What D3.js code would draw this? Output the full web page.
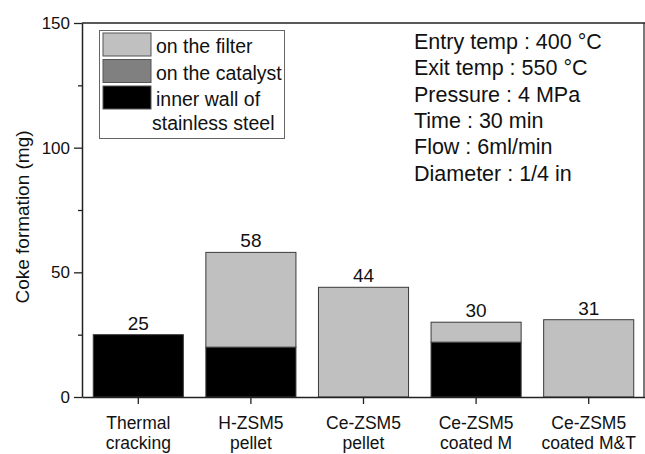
<!DOCTYPE html>
<html>
<head>
<meta charset="utf-8">
<script src="https://cdn.jsdelivr.net/npm/d3@7"></script>
<style>
  html, body { margin: 0; padding: 0; background: #fff; }
  svg { display: block; font-family: "Liberation Sans", Arial, sans-serif; }
</style>
</head>
<body>
<svg id="chart" width="645" height="454"></svg>
<script>
// Coke deposited per run, in mg, split by where it was found
const categories = ["Thermal cracking", "H-ZSM5 pellet", "Ce-ZSM5 pellet", "Ce-ZSM5 coated M", "Ce-ZSM5 coated M&T"];
const categoryLines = [["Thermal", "cracking"], ["H-ZSM5", "pellet"], ["Ce-ZSM5", "pellet"], ["Ce-ZSM5", "coated M"], ["Ce-ZSM5", "coated M&T"]];
const wallCoke = [25, 20, 0, 22, 0];      // inner wall of stainless steel
const catalystCoke = [0, 0, 0, 0, 0];     // on the catalyst
const filterCoke = [0, 38, 44, 8, 31];    // on the filter
const seriesKeys = ["wall", "catalyst", "filter"];
const seriesNames = ["inner wall of\nstainless steel", "on the catalyst", "on the filter"];
const seriesColors = ["#000000", "#808080", "#c0c0c0"];
const yTicks = [0, 50, 100, 150];
const yMinorTicks = [25, 75, 125];
const conditions = ["Entry temp : 400 °C", "Exit temp : 550 °C", "Pressure : 4 MPa", "Time : 30 min", "Flow : 6ml/min", "Diameter : 1/4 in"];

const rows = categories.map((c, i) => ({
  category: c,
  wall: wallCoke[i],
  catalyst: catalystCoke[i],
  filter: filterCoke[i]
}));
const totals = rows.map(r => r.wall + r.catalyst + r.filter);

const svg = d3.select("#chart");
const plotLeft = 82, plotRight = 645, plotTop = 23, plotBottom = 397;

const x = d3.scaleBand().domain(categories).range([plotLeft, plotRight]).paddingInner(0.2).paddingOuter(0.1);
const y = d3.scaleLinear().domain([0, 150]).range([plotBottom, plotTop]);

const stacked = d3.stack().keys(seriesKeys)(rows);

// stacked bars
const layers = svg.append("g").selectAll("g")
  .data(stacked)
  .join("g")
  .attr("fill", (d, i) => seriesColors[i]);

layers.selectAll("rect")
  .data(d => d.filter(s => s[1] - s[0] > 0))
  .join("rect")
  .attr("x", d => x(d.data.category))
  .attr("width", x.bandwidth())
  .attr("y", d => y(d[1]))
  .attr("height", d => y(d[0]) - y(d[1]))
  .attr("stroke", "#3a3a3a")
  .attr("stroke-width", 1);

// total labels above each bar
svg.append("g").selectAll("text")
  .data(totals)
  .join("text")
  .attr("x", (d, i) => x(categories[i]) + x.bandwidth() / 2)
  .attr("y", d => y(d) - 5)
  .attr("text-anchor", "middle")
  .attr("font-size", 19)
  .attr("fill", "#111")
  .text(d => d);

// frame: top and right edges
svg.append("line").attr("x1", plotLeft).attr("x2", plotRight).attr("y1", y(150)).attr("y2", y(150))
  .attr("stroke", "#222").attr("stroke-width", 1.5);
svg.append("line").attr("x1", plotRight - 1).attr("x2", plotRight - 1).attr("y1", y(150)).attr("y2", y(0))
  .attr("stroke", "#222").attr("stroke-width", 1.2);

// y axis
const yAxis = svg.append("g")
  .attr("transform", `translate(${plotLeft},0)`)
  .call(d3.axisLeft(y).tickValues(yTicks).tickSize(8).tickPadding(4).tickSizeOuter(0));
yAxis.select(".domain").attr("stroke", "#222").attr("stroke-width", 1.5);
yAxis.selectAll(".tick line").attr("stroke", "#222").attr("stroke-width", 1.3);
yAxis.selectAll(".tick text").attr("font-size", 17).attr("fill", "#111")
  .attr("font-family", "Liberation Sans, Arial, sans-serif");

const yMinor = svg.append("g")
  .attr("transform", `translate(${plotLeft},0)`)
  .call(d3.axisLeft(y).tickValues(yMinorTicks).tickSize(4).tickFormat(""));
yMinor.select(".domain").remove();
yMinor.selectAll(".tick line").attr("stroke", "#222").attr("stroke-width", 1.3);

// x axis
const xAxis = svg.append("g")
  .attr("transform", `translate(0,${plotBottom})`)
  .call(d3.axisBottom(x).tickSize(7).tickSizeOuter(0).tickFormat(""));
xAxis.select(".domain").attr("stroke", "#222").attr("stroke-width", 1.5);
xAxis.selectAll(".tick line").attr("stroke", "#222").attr("stroke-width", 1.3);

xAxis.selectAll(".tick").append("text")
  .attr("text-anchor", "middle")
  .attr("fill", "#111")
  .attr("font-size", 17.5)
  .attr("font-family", "Liberation Sans, Arial, sans-serif")
  .selectAll("tspan")
  .data(d => categoryLines[categories.indexOf(d)])
  .join("tspan")
  .attr("x", 0)
  .attr("y", (d, i) => 32 + i * 20)
  .text(d => d);

// y axis title
svg.append("text")
  .attr("transform", `translate(29,${(plotTop + plotBottom) / 2 + 7}) rotate(-90)`)
  .attr("text-anchor", "middle")
  .attr("font-size", 19)
  .attr("fill", "#111")
  .text("Coke formation (mg)");

// legend
const legend = svg.append("g");
legend.append("rect")
  .attr("x", 99.5).attr("y", 30.5).attr("width", 185).attr("height", 108)
  .attr("fill", "#fff").attr("stroke", "#666").attr("stroke-width", 1);

const legendOrder = [2, 1, 0];
legendOrder.forEach((si, row) => {
  const yy = 33 + row * 26.5;
  legend.append("rect")
    .attr("x", 103).attr("y", yy).attr("width", 48).attr("height", 23)
    .attr("fill", seriesColors[si]).attr("stroke", "#555").attr("stroke-width", 1);
  const lines = seriesNames[si].split("\n");
  lines.forEach((ln, li) => {
    legend.append("text")
      .attr("x", li === 0 ? 156 : 152)
      .attr("y", yy + 20 + li * 24)
      .attr("font-size", 19.5)
      .attr("fill", "#111")
      .text(ln);
  });
});

// run conditions
svg.append("g").selectAll("text")
  .data(conditions)
  .join("text")
  .attr("x", 414)
  .attr("y", (d, i) => 49 + i * 26.3)
  .attr("font-size", 21.5)
  .attr("fill", "#111")
  .text(d => d);
</script>
</body>
</html>
